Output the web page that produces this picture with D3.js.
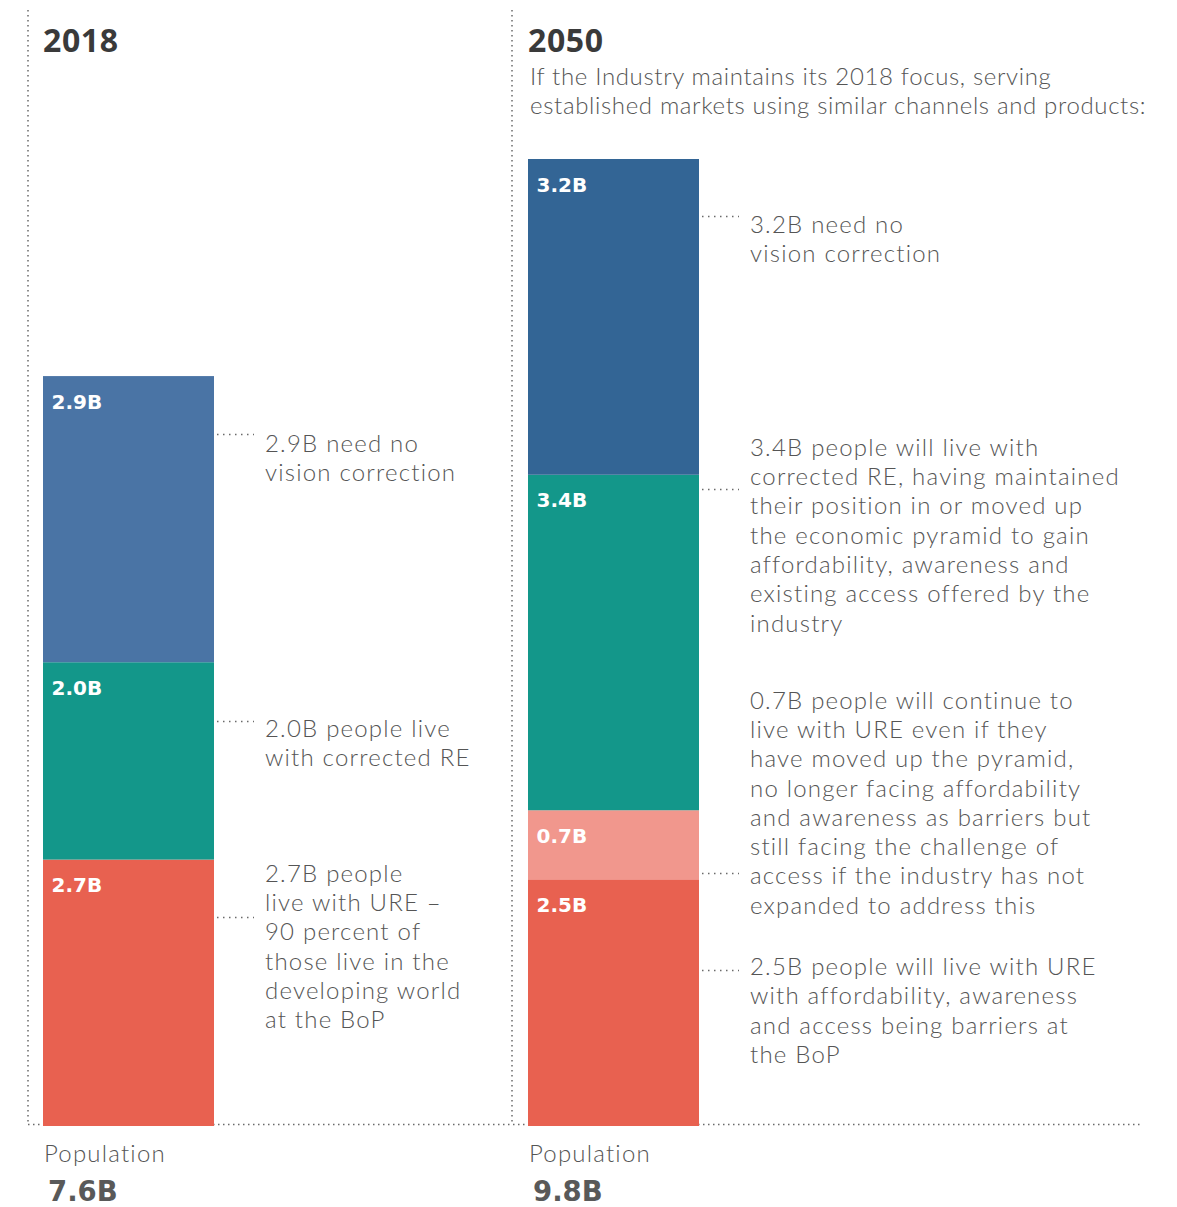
<!DOCTYPE html>
<html><head><meta charset="utf-8">
<script src="https://cdn.jsdelivr.net/npm/d3@7"></script>
<style>
html,body{margin:0;padding:0;background:#fff;}
svg{display:block;}
</style></head>
<body>
<svg id="chart" width="1177" height="1207"></svg>
<script>
// ---- data ----
const years = ["2018", "2050"];
const totals = ["7.6B", "9.8B"];
const segments2018 = ["URE", "Corrected RE", "No correction"];
const values2018 = [2.7, 2.0, 2.9];
const segments2050 = ["URE at BoP", "URE (access)", "Corrected RE", "No correction"];
const values2050 = [2.5, 0.7, 3.4, 3.2];
const valueLabels2018 = ["2.7B", "2.0B", "2.9B"];
const valueLabels2050 = ["2.5B", "0.7B", "3.4B", "3.2B"];
const subtitleLines = ["If the Industry maintains its 2018 focus, serving",
  "established markets using similar channels and products:"];
const notes2018 = [
  ["2.7B people", "live with URE –", "90 percent of", "those live in the", "developing world", "at the BoP"],
  ["2.0B people live", "with corrected RE"],
  ["2.9B need no", "vision correction"]
];
const notes2050 = [
  ["2.5B people will live with URE", "with affordability, awareness", "and access being barriers at", "the BoP"],
  ["0.7B people will continue to", "live with URE even if they", "have moved up the pyramid,", "no longer facing affordability",
   "and awareness as barriers but", "still facing the challenge of", "access if the industry has not", "expanded to address this"],
  ["3.4B people will live with", "corrected RE, having maintained", "their position in or moved up",
   "the economic pyramid to gain", "affordability, awareness and", "existing access offered by the", "industry"],
  ["3.2B need no", "vision correction"]
];
const populationLabel = "Population";

// ---- layout ----
const svg = d3.select("#chart");
const y = d3.scaleLinear().domain([0, 9.8]).range([1126, 159]);
const x = d3.scaleOrdinal().domain(years).range([43, 528]);
const barW = 171;
const colors2018 = ["#e86150", "#13978a", "#4a74a5"];
const colors2050 = ["#e86150", "#f1978d", "#13978a", "#336595"];
const lightFont = "Lato, 'Open Sans', sans-serif";
const titleFont = "'Open Sans', Lato, sans-serif";
const numFont = "'DejaVu Sans', 'Open Sans', sans-serif";
const textCol = "#555";
const lineH = 29.3;
// connector offset (px below segment top) and first-baseline offset from connector
const conn2018 = [{off: 57, base: -35.8}, {off: 59, base: 15.5}, {off: 58, base: 17.5}];
const conn2050 = [{off: 91, base: 4.4}, {off: 63, base: -164.9}, {off: 14, base: -33.8}, {off: 57, base: 16.5}];

function dotted(x1, y1, x2, y2, dash) {
  return svg.append("line").attr("x1", x1).attr("y1", y1).attr("x2", x2).attr("y2", y2)
    .attr("stroke", "#6a6a6a").attr("stroke-width", 1.5)
    .attr("stroke-dasharray", dash || "1.5,3.5");
}
dotted(28, 10, 28, 1125);
dotted(512, 10, 512, 1125);
dotted(28, 1124.5, 1143, 1124.5);

function drawBar(year, vals, labels, cols, notes, conns) {
  const x0 = x(year);
  let cum = 0;
  const stack = vals.map((v, i) => { const s = {v, i, y0: cum, y1: cum + v}; cum += v; return s; });
  const g = svg.append("g");
  g.selectAll("rect").data(stack).join("rect")
    .attr("x", x0).attr("width", barW)
    .attr("y", d => y(d.y1)).attr("height", d => y(d.y0) - y(d.y1))
    .attr("fill", d => cols[d.i]);
  g.selectAll("text.vl").data(stack).join("text").attr("class", "vl")
    .attr("x", x0 + 8.5).attr("y", d => y(d.y1) + 32.5)
    .attr("fill", "#fff").attr("font-family", numFont).attr("font-weight", 700)
    .attr("font-size", 20).text(d => labels[d.i]);
  stack.forEach(d => {
    const cy = Math.round(y(d.y1) + conns[d.i].off) + 0.5;
    dotted(x0 + barW + 3, cy, x0 + barW + 40, cy, "1.5,4.5");
    const tx = x0 + barW + 51;
    const firstBase = cy + conns[d.i].base;
    const t = g.append("text").attr("font-family", lightFont).attr("font-weight", 300)
      .attr("font-size", 24).attr("letter-spacing", 1.2).attr("fill", textCol);
    notes[d.i].forEach((ln, k) => {
      t.append("tspan").attr("x", tx).attr("y", firstBase + k * lineH).text(ln);
    });
  });
  // year title
  svg.append("text").attr("x", x0).attr("y", 52).attr("font-family", titleFont)
    .attr("font-weight", 700).attr("font-size", 32).attr("letter-spacing", 0.6)
    .attr("fill", "#3a3a3a").text(year);
  // population
  svg.append("text").attr("x", x0 + 1).attr("y", 1162).attr("font-family", lightFont)
    .attr("font-weight", 300).attr("font-size", 24).attr("letter-spacing", 1.2)
    .attr("fill", textCol).text(populationLabel);
  svg.append("text").attr("x", x0 + 5).attr("y", 1201).attr("font-family", numFont)
    .attr("font-weight", 700).attr("font-size", 27.5).attr("fill", "#595959")
    .text(totals[years.indexOf(year)]);
}
drawBar("2018", values2018, valueLabels2018, colors2018, notes2018, conn2018);
drawBar("2050", values2050, valueLabels2050, colors2050, notes2050, conn2050);

const sub = svg.append("text").attr("font-family", lightFont).attr("font-weight", 300)
  .attr("font-size", 24).attr("letter-spacing", 0.65).attr("fill", textCol);
subtitleLines.forEach((ln, k) => sub.append("tspan").attr("x", 530).attr("y", 85 + k * 29.3).text(ln));
</script>
</body></html>
